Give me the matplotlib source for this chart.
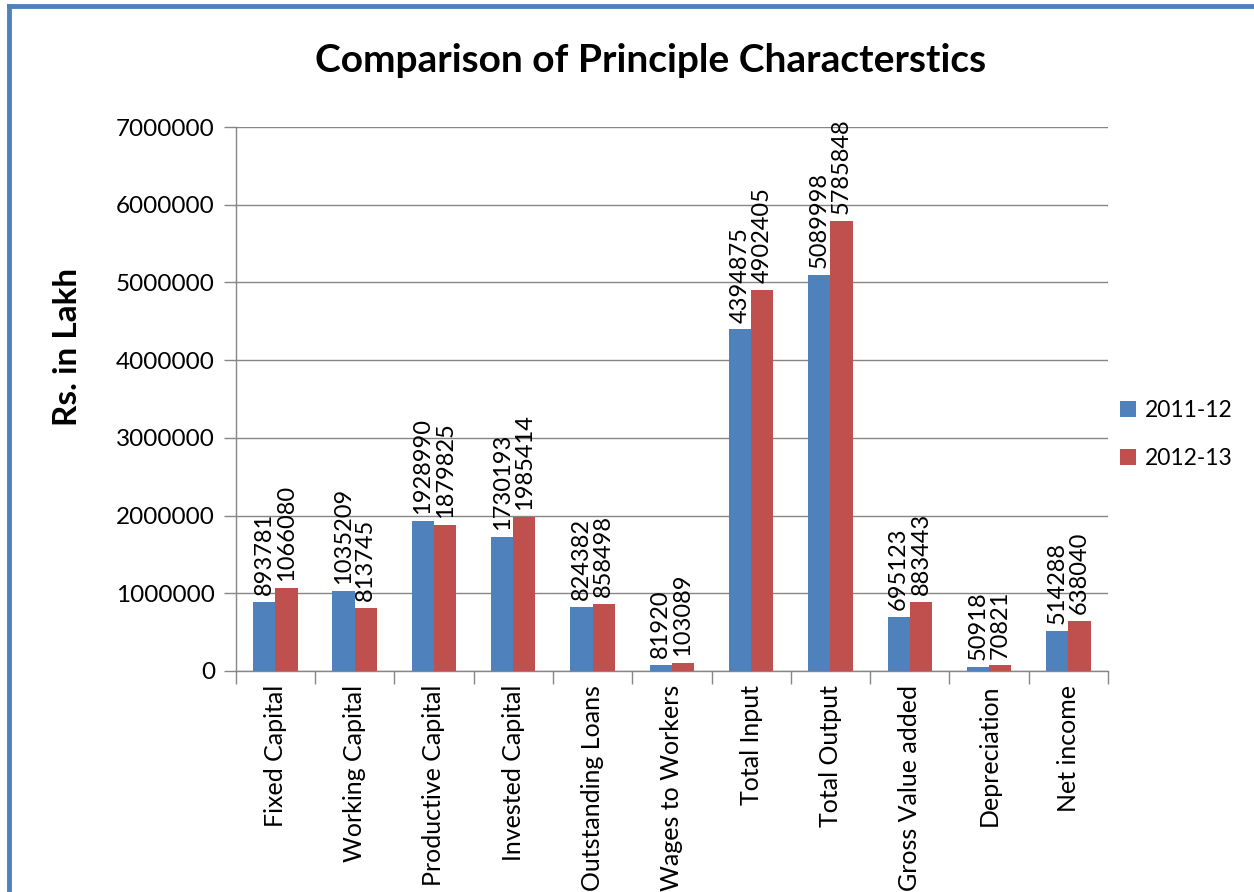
import matplotlib
matplotlib.use("Agg")
import matplotlib.pyplot as plt
import numpy as np
from matplotlib.lines import Line2D

categories = ["Fixed Capital", "Working Capital", "Productive Capital", "Invested Capital",
              "Outstanding Loans", "Wages to Workers", "Total Input", "Total Output",
              "Gross Value added", "Depreciation", "Net income"]
values_2011 = [893781, 1035209, 1928990, 1730193, 824382, 81920, 4394875, 5089998, 695123, 50918, 514288]
values_2012 = [1066080, 813745, 1879825, 1985414, 858498, 103089, 4902405, 5785848, 883443, 70821, 638040]
series_names = ["2011-12", "2012-13"]
yticks = [0, 1000000, 2000000, 3000000, 4000000, 5000000, 6000000, 7000000]

plt.rcParams['font.family'] = ['Lato', 'DejaVu Sans']

fig = plt.figure(figsize=(12.54, 8.92), dpi=100)
ax = fig.add_axes([0.188, 0.2478, 0.6956, 0.6098])

blue = "#4F81BD"
red = "#C0504D"
x = np.arange(len(categories))
w = 0.28
b1 = ax.bar(x - w/2, values_2011, w, color=blue, label=series_names[0], zorder=3)
b2 = ax.bar(x + w/2, values_2012, w, color=red, label=series_names[1], zorder=3)

for bars in (b1, b2):
    for rect in bars:
        h = rect.get_height()
        ax.annotate(f"{int(h)}", (rect.get_x() + rect.get_width()/2, h),
                    xytext=(0, 5), textcoords="offset points", rotation=90,
                    ha="center", va="bottom", fontsize=17, color="#000000")

ax.set_xlim(-0.5, len(categories) - 0.5)
ax.set_ylim(0, 7000000)
ax.set_yticks(yticks)
ax.set_yticklabels([str(v) for v in yticks], fontsize=17.5)
ax.yaxis.grid(True, color="#868686", linewidth=1.0, zorder=0)
ax.set_axisbelow(True)

ax.set_xticks(x)
ax.set_xticklabels(categories, rotation=90, fontsize=18)
ax.tick_params(axis='x', length=0, pad=10)
ax.set_xticks(np.arange(-0.5, len(categories)), minor=True)
ax.tick_params(axis='x', which='minor', length=9, color="#868686", width=1.0)
ax.tick_params(axis='y', length=9, color="#868686", width=1.0, pad=6)

for s in ["top", "right"]:
    ax.spines[s].set_visible(False)
for s in ["left", "bottom"]:
    ax.spines[s].set_color("#868686")
    ax.spines[s].set_linewidth(1.0)

ax.set_ylabel("Rs. in Lakh", fontsize=24, fontweight="bold")
ax.yaxis.set_label_coords(-0.176, 0.596)

fig.text(0.519, 0.932, "Comparison of Principle Characterstics", ha="center", va="center",
         fontsize=28, fontweight="bold")

ax.legend(loc="center left", bbox_to_anchor=(0.99, 0.435), frameon=False, fontsize=16.5,
          handlelength=0.7, handleheight=0.7, handletextpad=0.4, labelspacing=1.2)

# figure border (left and top)
fig.add_artist(Line2D([9/1254, 9/1254], [0, 1 - 6/892], transform=fig.transFigure,
                      color="#4F81BD", linewidth=3.5))
fig.add_artist(Line2D([9/1254, 1], [1 - 6/892, 1 - 6/892], transform=fig.transFigure,
                      color="#4F81BD", linewidth=3.5))

fig.savefig("out.png", dpi=100)
